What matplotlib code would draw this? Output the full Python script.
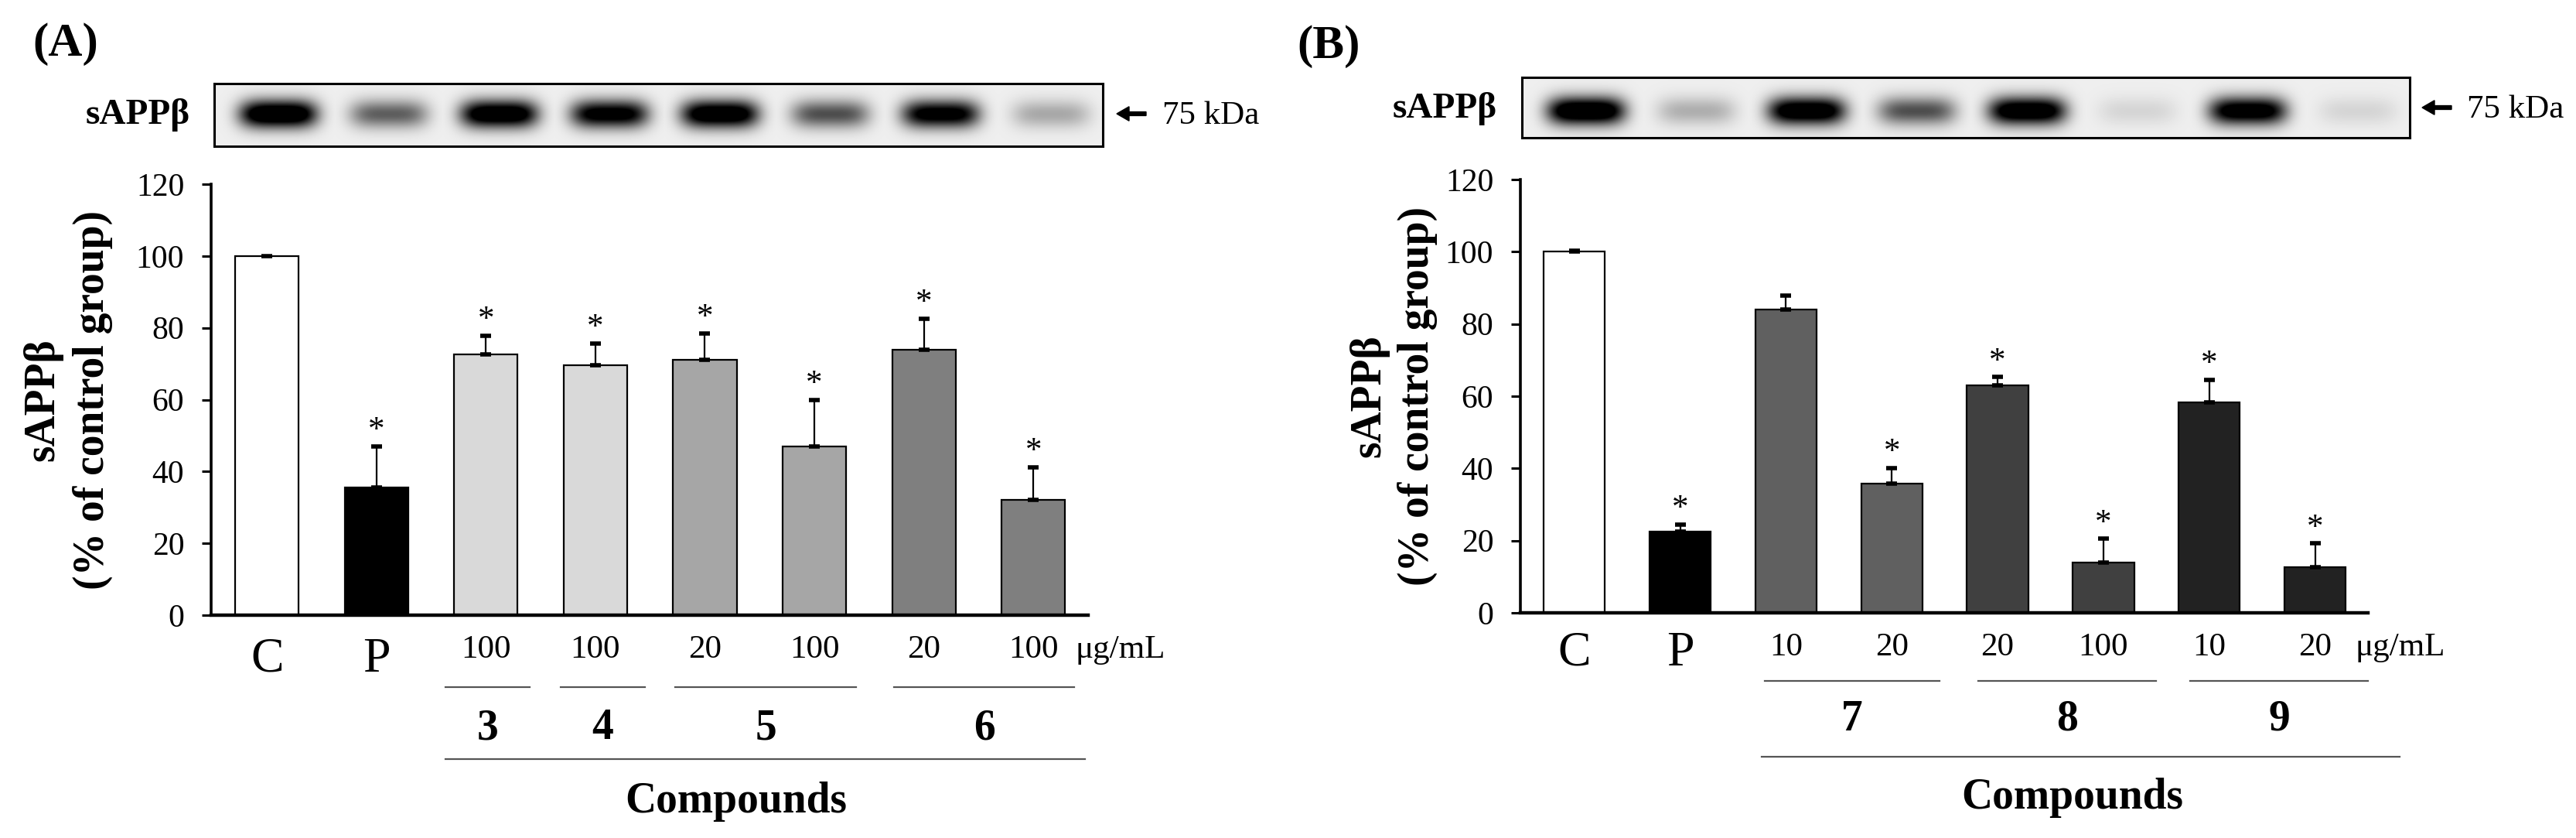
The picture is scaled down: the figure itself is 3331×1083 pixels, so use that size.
import numpy as np
import matplotlib
matplotlib.use("Agg")
import matplotlib.pyplot as plt
from matplotlib import transforms
from matplotlib.lines import Line2D

plt.rcParams['font.family'] = ['Liberation Serif', 'DejaVu Serif']

# ---------------- data ----------------
a_labels = ['C', 'P', '100', '100', '20', '100', '20', '100']
a_values = [100.0, 35.5, 72.5, 69.5, 71.0, 47.0, 74.0, 32.0]
a_errors = [np.nan, 11.5, 5.3, 6.2, 7.5, 13.0, 8.5, 9.2]
a_signif = [False, True, True, True, True, True, True, True]
a_colors = ['#ffffff', '#000000', '#d9d9d9', '#d9d9d9', '#a6a6a6', '#a6a6a6', '#7f7f7f', '#7f7f7f']
a_compounds = ['3', '4', '5', '6']
a_groups = [(2, 2), (3, 3), (4, 5), (6, 7)]
a_blot = [1.0, 0.45, 0.95, 0.85, 0.95, 0.5, 0.85, 0.22]

b_labels = ['C', 'P', '10', '20', '20', '100', '10', '20']
b_values = [100.0, 22.5, 84.0, 35.7, 63.1, 13.9, 58.3, 12.6]
b_errors = [0.2, 2.0, 3.8, 4.4, 2.2, 6.6, 6.2, 6.6]
b_signif = [False, True, False, True, True, True, True, True]
b_colors = ['#ffffff', '#000000', '#606060', '#606060', '#404040', '#404040', '#222222', '#222222']
b_compounds = ['7', '8', '9']
b_groups = [(2, 3), (4, 5), (6, 7)]
b_blot = [1.0, 0.2, 0.95, 0.5, 0.95, 0.08, 0.9, 0.08]

yticks = [0, 20, 40, 60, 80, 100, 120]
unit = 'μg/mL'
ylab1 = 'sAPPβ'
ylab2 = '(% of control group)'

# ---------------- layout helpers ----------------
W, H = 3331, 1083
fig = plt.figure(figsize=(W / 100, H / 100), dpi=100)


def fx(px):
    return px / W


def fy(py):
    return 1 - py / H


def blot(box, intens, label_x, label_base, arrow_x, kda_x, kda_base, vpos):
    x0, y0, x1, y1 = box
    ax = fig.add_axes([fx(x0), fy(y1), fx(x1 - x0), (y1 - y0) / H])
    bw, bh = int(x1 - x0), int(y1 - y0)
    xs = np.arange(bw)[None, :]
    ys = np.arange(bh)[:, None]
    bg = 0.935
    dark = np.zeros((bh, bw))
    for i, v in enumerate(intens):
        cx = bw * (0.072 + 0.1242 * i)
        cy = bh * vpos
        d = v * np.exp(-((xs - cx) / 50.0) ** 4) * np.exp(-((ys - cy) / 18.0) ** 2)
        dark = np.maximum(dark, d)
    img = bg * (1 - np.clip(dark * 1.35, 0, 1))
    ax.imshow(img, cmap='gray', vmin=0, vmax=1, aspect='auto',
              interpolation='bilinear', extent=[0, bw, bh, 0])
    ax.set_xticks([])
    ax.set_yticks([])
    for s in ax.spines.values():
        s.set_linewidth(2.2)
    fig.text(fx(label_x), fy(label_base), 'sAPPβ', fontsize=34, fontweight='bold',
             ha='left', va='baseline')
    fig.patches.append(matplotlib.patches.FancyArrow(
        fx(arrow_x + 38), fy(label_base - 13), -fx(38), 0, width=0.0045,
        head_width=0.017, head_length=fx(16), length_includes_head=True,
        color='black', transform=fig.transFigure, figure=fig))
    fig.text(fx(kda_x), fy(kda_base), '75 kDa', fontsize=31, ha='left', va='baseline')


def panel(rect_px, labels, values, errors, signif, colors, compounds, groups,
          spans, long_span, ylab_x, ys_px, comp_x):
    x0, ytop, x1, ybot = rect_px
    ax = fig.add_axes([fx(x0), fy(ybot), fx(x1 - x0), (ybot - ytop) / H])
    x = np.arange(len(values))
    ax.bar(x, values, width=0.58, color=colors, edgecolor='black', linewidth=1.6, zorder=2)
    errs = np.array(errors, dtype=float)
    lower = np.zeros_like(errs)
    ax.errorbar(x, values, yerr=[lower, errs], fmt='none', ecolor='black',
                elinewidth=1.6, capsize=5, capthick=4, zorder=3)
    for xi, v, e, s in zip(x, values, errs, signif):
        if s:
            top = v + (0 if np.isnan(e) else e)
            ax.annotate('*', xy=(xi, top), xytext=(0, 7), textcoords='offset points',
                        ha='center', va='baseline', fontsize=31)
    ax.set_ylim(0, 120)
    ax.set_xlim(-0.51, 7.5)
    ax.set_yticks(yticks)
    ax.set_xticks([])
    ax.spines['top'].set_visible(False)
    ax.spines['right'].set_visible(False)
    ax.spines['left'].set_linewidth(2.6)
    ax.spines['bottom'].set_linewidth(3.2)
    ax.tick_params(axis='y', direction='out', length=9, width=2.2, labelsize=30, pad=16)

    tr = transforms.blended_transform_factory(ax.transData, fig.transFigure)
    dose_base, cp_base, gline, num_base, lline, comp_base = ys_px
    for xi, lab in zip(x, labels):
        if lab in ('C', 'P'):
            ax.text(xi, fy(cp_base), lab, transform=tr, ha='center', va='baseline', fontsize=46)
        else:
            ax.text(xi, fy(dose_base), lab, transform=tr, ha='center', va='baseline', fontsize=31)
    ax.text(7.38, fy(dose_base), unit, transform=tr, ha='left', va='baseline', fontsize=31)
    for (g0, g1), (s0, s1), name in zip(groups, spans, compounds):
        xa, xb = g0 + s0, g1 + s1
        fig.add_artist(Line2D([xa, xb], [fy(gline), fy(gline)], transform=tr,
                              color='#555555', lw=1.6))
        ax.text((xa + xb) / 2, fy(num_base), name, transform=tr, ha='center',
                va='baseline', fontsize=40, fontweight='bold')
    fig.add_artist(Line2D([long_span[0], long_span[1]], [fy(lline), fy(lline)], transform=tr,
                          color='#555555', lw=1.6))
    fig.text(fx(comp_x), fy(comp_base), 'Compounds', ha='center', va='baseline',
             fontsize=40, fontweight='bold')
    ymid = fy((ytop + ybot) / 2)
    fig.text(fx(ylab_x[0]), ymid, ylab1, rotation=90, ha='center', va='center',
             fontsize=40, fontweight='bold')
    fig.text(fx(ylab_x[1]), ymid, ylab2, rotation=90, ha='center', va='center',
             fontsize=40, fontweight='bold')
    return ax


# ---------------- panel A ----------------
fig.text(fx(42), fy(72), '(A)', fontsize=44, fontweight='bold', ha='left', va='baseline')
blot((277, 108, 1426, 189), a_blot, 111, 160, 1444, 1503, 160, 0.48)
panel((273, 238, 1407, 795), a_labels, a_values, a_errors, a_signif, a_colors,
      a_compounds, a_groups,
      [(-0.37, 0.40), (-0.32, 0.45), (-0.27, 0.38), (-0.27, 0.37)], (1.63, 7.47),
      (55, 120), (850, 868, 888, 955, 981, 1050), 952)

# ---------------- panel B ----------------
fig.text(fx(1677), fy(75), '(B)', fontsize=44, fontweight='bold', ha='left', va='baseline')
blot((1968, 100, 3116, 178), b_blot, 1801, 152, 3132, 3190, 152, 0.55)
panel((1966, 232, 3062, 792), b_labels, b_values, b_errors, b_signif, b_colors,
      b_compounds, b_groups,
      [(-0.2, 0.45), (-0.18, 0.5), (-0.18, 0.5)], (1.77, 7.8),
      (1770, 1833), (847, 860, 880, 944, 978, 1045), 2680)

fig.savefig('out.png', dpi=100, facecolor='white')
